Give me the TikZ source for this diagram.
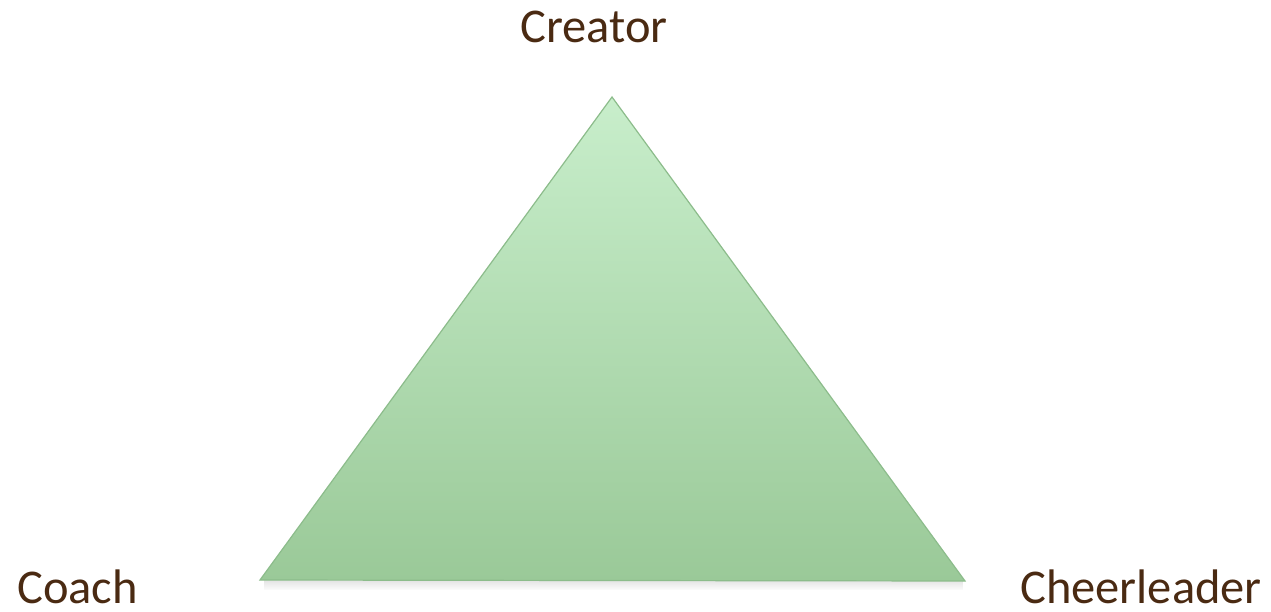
\documentclass[tikz,border=0pt]{standalone}
\usepackage{fontspec}
\setmainfont{Carlito}
\definecolor{txtbrown}{HTML}{4A2A12}
\definecolor{gtop}{HTML}{C8EECB}
\definecolor{gbot}{HTML}{9AC998}
\definecolor{gedge}{HTML}{8CBC8B}
\tikzset{
  label/.style={text=txtbrown, font=\fontsize{48.5}{52}\selectfont, inner sep=0pt, anchor=base},
  tri/.style={draw=gedge, line width=1.2pt, top color=gtop, bottom color=gbot, line join=miter}
}
\begin{document}
\begin{tikzpicture}[x=1pt,y=-1pt]
\useasboundingbox (0,0) rectangle (1271,612);
% shadow under the base
\foreach \o/\a in {1/0.10,2/0.10,3/0.09,4/0.08,5/0.07,6/0.06,7/0.05,8/0.04,9/0.03,10/0.02}{
  \fill[black, opacity=\a] (264,580+\o-1) rectangle (963,580+\o);
}
\coordinate (apex) at (612,97);
\coordinate (bl) at (260,580);
\coordinate (br) at (965,581);
\path[tri] (apex) -- (br) -- (bl) -- cycle;
\node[label] (creator) at (594,43) {Creator};
\node[label, anchor=base west] (coach) at (17,603) {Coach};
\node[label, anchor=base east] (cheer) at (1262,603) {Cheerleader};
\end{tikzpicture}
\end{document}
